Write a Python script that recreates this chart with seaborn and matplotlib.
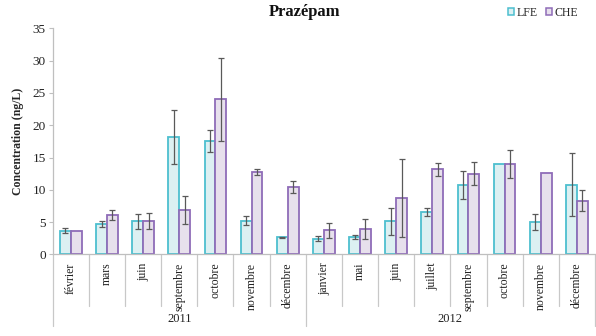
import matplotlib
matplotlib.use("Agg")
import matplotlib.pyplot as plt
import seaborn as sns
import pandas as pd
import numpy as np
from matplotlib.patches import Patch

months_2011 = ["février", "mars", "juin", "septembre", "octobre", "novembre", "décembre"]
months_2012 = ["janvier", "mai", "juin", "juillet", "septembre", "octobre", "novembre", "décembre"]
years = ["2011", "2012"]

lfe_2011 = [3.65, 4.7, 5.1, 18.2, 17.5, 5.2, 2.65]
che_2011 = [3.6, 6.15, 5.2, 6.9, 24.0, 12.75, 10.45]
lfe_err_2011 = [0.4, 0.45, 1.1, 4.2, 1.7, 0.7, 0.05]
che_err_2011 = [0.0, 0.8, 1.25, 2.2, 6.4, 0.5, 0.9]

lfe_2012 = [2.45, 2.75, 5.1, 6.55, 10.75, 14.05, 5.05, 10.8]
che_2012 = [3.75, 3.95, 8.75, 13.15, 12.5, 14.0, 12.55, 8.3]
lfe_err_2012 = [0.4, 0.3, 2.1, 0.6, 2.2, 0.0, 1.2, 4.9]
che_err_2012 = [1.15, 1.6, 6.0, 1.05, 1.75, 2.2, 0.0, 1.6]

series = ["LFE", "CHE"]
edge_colors = {"LFE": "#4dbfcf", "CHE": "#8f6cb8"}
fill_colors = {"LFE": "#dcf0f2", "CHE": "#e7e0ec"}

months = months_2011 + months_2012
keys = [f"2011|{m}" for m in months_2011] + [f"2012|{m}" for m in months_2012]
lfe = lfe_2011 + lfe_2012
che = che_2011 + che_2012
lfe_err = lfe_err_2011 + lfe_err_2012
che_err = che_err_2011 + che_err_2012

df = pd.DataFrame({
    "key": keys * 2,
    "value": lfe + che,
    "series": ["LFE"] * len(keys) + ["CHE"] * len(keys),
})

sns.set_theme(style="white")
plt.rcParams["font.family"] = ["Liberation Serif", "DejaVu Serif"]

fig = plt.figure(figsize=(5.96, 3.36), dpi=100)
ax = fig.add_axes([52.7 / 596, 1 - 254.4 / 336, (595 - 52.7) / 596, (254.4 - 28.3) / 336])

sns.barplot(data=df, x="key", y="value", hue="series", order=keys, hue_order=series,
            palette=fill_colors, width=0.6, errorbar=None, legend=False, ax=ax,
            linewidth=1.3, saturation=1)

errs = {"LFE": lfe_err, "CHE": che_err}
for cont, s in zip(ax.containers, series):
    xs, hs = [], []
    for p in cont.patches:
        p.set_edgecolor(edge_colors[s])
        p.set_facecolor(fill_colors[s])
        xs.append(p.get_x() + p.get_width() / 2)
        hs.append(p.get_height())
    e = np.array(errs[s])
    mask = e > 0
    ax.errorbar(np.array(xs)[mask], np.array(hs)[mask], yerr=e[mask], fmt="none",
                ecolor="#595959", elinewidth=0.9, capsize=2.2, capthick=0.9, zorder=5)

ax.set_ylim(0, 35)
ax.set_xlim(-0.5, len(keys) - 0.5)
ax.set_yticks(np.arange(0, 36, 5))
ax.set_yticklabels([str(v) for v in range(0, 36, 5)], fontsize=9.5, color="#222222")
ax.tick_params(axis="y", length=3, color="#bfbfbf", width=0.8, pad=2, left=True)
ax.set_xticks(range(len(keys)))
ax.set_xticklabels(months, rotation=90, fontsize=8.5, color="#222222", va="top")
ax.tick_params(axis="x", length=0, pad=6)
ax.set_xlabel("")
ax.set_ylabel("Concentration (ng/L)", fontsize=8.5, fontweight="bold", labelpad=6)

for sp in ["top", "right"]:
    ax.spines[sp].set_visible(False)
for sp in ["left", "bottom"]:
    ax.spines[sp].set_color("#bfbfbf")
    ax.spines[sp].set_linewidth(0.9)

trans = ax.get_xaxis_transform()
axh = 254.4 - 28.3
y_short = -(306.5 - 254.4) / axh
y_long = -(326.5 - 254.4) / axh
n11 = len(months_2011)
for b in np.arange(-0.5, len(keys), 1.0):
    long_line = b in (-0.5, n11 - 0.5, len(keys) - 0.5)
    ax.plot([b, b], [0, y_long if long_line else y_short], transform=trans,
            color="#c8c8c8", lw=0.9, clip_on=False)

ax.text((n11 - 1) / 2, -(319 - 254.4) / axh, years[0], transform=trans,
        ha="center", va="center", fontsize=9, color="#222222")
ax.text(n11 + (len(months_2012) - 1) / 2, -(319 - 254.4) / axh, years[1], transform=trans,
        ha="center", va="center", fontsize=9, color="#222222")

fig.text(305 / 596, 1 - 12 / 336, "Prazépam", ha="center", va="center",
         fontsize=12, fontweight="bold", color="#111111")

handles = [Patch(facecolor=fill_colors[s], edgecolor=edge_colors[s], linewidth=1.1, label=s)
           for s in series]
fig.legend(handles=handles, loc="center", bbox_to_anchor=(543 / 596, 1 - 13 / 336),
           ncol=2, frameon=False, fontsize=8.5, handlelength=0.5, handleheight=0.5,
           handletextpad=0.25, columnspacing=0.7, borderpad=0)

fig.savefig("out.png", dpi=100)
